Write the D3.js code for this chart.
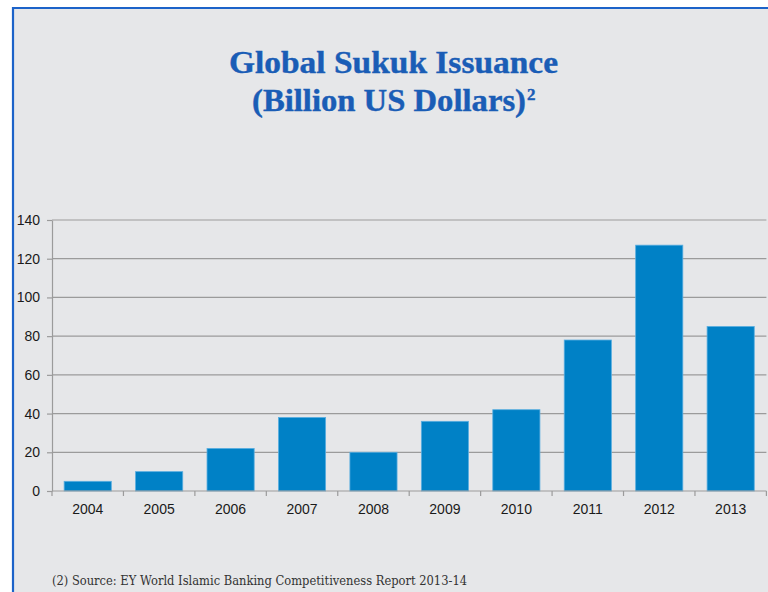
<!DOCTYPE html>
<html>
<head>
<meta charset="utf-8">
<script src="https://cdn.jsdelivr.net/npm/d3@7"></script>
<style>
  html, body { margin: 0; padding: 0; background: #ffffff; }
  svg { display: block; }
</style>
</head>
<body>
<svg id="chart" width="768" height="592"></svg>
<script>
// Global sukuk issuance, billion US dollars
const years = ["2004", "2005", "2006", "2007", "2008", "2009", "2010", "2011", "2012", "2013"];
const issuance = [5, 10, 22, 38, 20, 36, 42, 78, 127, 85];
const yTicks = [0, 20, 40, 60, 80, 100, 120, 140];

const titleLine1 = "Global Sukuk Issuance";
const titleLine2 = "(Billion US Dollars)";
const footnote = "(2) Source: EY World Islamic Banking Competitiveness Report 2013-14";

const svg = d3.select("#chart");

// Panel with blue top/left rule
svg.append("rect")
  .attr("x", 13).attr("y", 8)
  .attr("width", 768).attr("height", 600)
  .attr("fill", "#e6e7e9");
svg.append("path")
  .attr("d", "M13,600 L13,8 L780,8")
  .attr("fill", "none")
  .attr("stroke", "#1c63c9")
  .attr("stroke-width", 2.2);

// Title
const titleColor = "#1a5db6";
svg.append("text")
  .attr("x", 229).attr("y", 73)
  .attr("font-family", "Liberation Serif, serif")
  .attr("font-weight", "bold")
  .attr("font-size", 32)
  .attr("fill", titleColor)
  .attr("stroke", titleColor)
  .attr("stroke-width", 0.4)
  .attr("textLength", 329)
  .attr("lengthAdjust", "spacingAndGlyphs")
  .text(titleLine1);

const t2 = svg.append("text")
  .attr("x", 252).attr("y", 111)
  .attr("font-family", "Liberation Serif, serif")
  .attr("font-weight", "bold")
  .attr("font-size", 32)
  .attr("fill", titleColor)
  .attr("stroke", titleColor)
  .attr("stroke-width", 0.4);
t2.append("tspan")
  .attr("textLength", 274)
  .attr("lengthAdjust", "spacingAndGlyphs")
  .text(titleLine2);
t2.append("tspan")
  .attr("dy", -11)
  .attr("dx", 1)
  .attr("font-size", 17)
  .text("2");

// Plot area
const plotLeft = 52, plotRight = 766.4, plotTop = 220, plotBottom = 491;

const x = d3.scaleBand()
  .domain(years)
  .range([plotLeft, plotRight])
  .paddingInner(0.34)
  .paddingOuter(0.17);

const y = d3.scaleLinear()
  .domain([0, 140])
  .range([plotBottom, plotTop]);

// Gridlines
svg.append("g")
  .selectAll("line")
  .data(yTicks.filter(d => d > 0))
  .join("line")
  .attr("x1", plotLeft).attr("x2", plotRight)
  .attr("y1", d => y(d)).attr("y2", d => y(d))
  .attr("stroke", "#9b9b9b")
  .attr("stroke-width", 1.2);

// Y axis
const yAxis = svg.append("g")
  .attr("transform", `translate(${plotLeft},0)`)
  .call(d3.axisLeft(y).tickValues(yTicks).tickSize(5).tickPadding(7).tickSizeOuter(0));
yAxis.select(".domain").attr("stroke", "#9b9b9b").attr("stroke-width", 1.2);
yAxis.selectAll(".tick line").attr("stroke", "#9b9b9b").attr("stroke-width", 1.2);
yAxis.selectAll("text")
  .attr("font-family", "Liberation Sans, Arial, sans-serif")
  .attr("font-size", 14)
  .attr("fill", "#1a1a1a");

// Bars
svg.append("g")
  .selectAll("rect")
  .data(years.map((yr, i) => ({ yr, v: issuance[i] })))
  .join("rect")
  .attr("x", d => x(d.yr))
  .attr("y", d => y(d.v))
  .attr("width", x.bandwidth())
  .attr("height", d => y(0) - y(d.v))
  .attr("fill", "#0081c6")
  .attr("stroke", "#5aaee0")
  .attr("stroke-width", 0.8);

// X axis with ticks at category boundaries
const boundaries = d3.range(years.length + 1).map(i => plotLeft + i * (plotRight - plotLeft) / years.length);
const xg = svg.append("g");
xg.append("line")
  .attr("x1", plotLeft).attr("x2", plotRight)
  .attr("y1", plotBottom).attr("y2", plotBottom)
  .attr("stroke", "#9b9b9b").attr("stroke-width", 1.2);
xg.selectAll("line.tk")
  .data(boundaries)
  .join("line")
  .attr("class", "tk")
  .attr("x1", d => d).attr("x2", d => d)
  .attr("y1", plotBottom).attr("y2", plotBottom + 5)
  .attr("stroke", "#9b9b9b").attr("stroke-width", 1.2);
xg.selectAll("text")
  .data(years)
  .join("text")
  .attr("x", d => x(d) + x.bandwidth() / 2)
  .attr("y", 514)
  .attr("text-anchor", "middle")
  .attr("font-family", "Liberation Sans, Arial, sans-serif")
  .attr("font-size", 14)
  .attr("fill", "#1a1a1a")
  .text(d => d);

// Footnote
svg.append("text")
  .attr("x", 52).attr("y", 585)
  .attr("font-family", "DejaVu Serif, serif")
  .attr("font-size", 13.5)
  .attr("fill", "#333333")
  .attr("textLength", 415)
  .attr("lengthAdjust", "spacingAndGlyphs")
  .text(footnote);
</script>
</body>
</html>
